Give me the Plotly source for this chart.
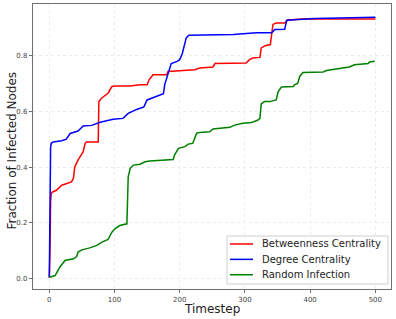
import plotly.graph_objects as go

# Betweenness Centrality (timestep, fraction)
bet_t = [0, 1, 2, 3, 5, 11, 19, 27, 34, 37, 39, 44, 47, 52, 55, 57, 75, 76, 80, 90, 96, 101, 124, 139, 150, 153, 159, 180, 182, 223, 231, 251, 254, 302, 307, 312, 323, 325, 331, 339, 341, 343, 348, 361, 366, 389, 500]
bet_v = [0.005, 0.09, 0.28, 0.305, 0.311, 0.317, 0.335, 0.341, 0.347, 0.36, 0.40, 0.425, 0.437, 0.455, 0.485, 0.49, 0.49, 0.634, 0.646, 0.664, 0.688, 0.69, 0.69, 0.694, 0.694, 0.712, 0.73, 0.73, 0.742, 0.748, 0.754, 0.758, 0.77, 0.772, 0.784, 0.79, 0.792, 0.826, 0.834, 0.838, 0.874, 0.91, 0.915, 0.915, 0.926, 0.929, 0.929]

# Degree Centrality
deg_t = [0, 1, 2, 3, 6, 19, 26, 32, 44, 52, 65, 78, 98, 113, 121, 134, 145, 150, 157, 170, 175, 177, 182, 187, 196, 200, 204, 210, 214, 282, 318, 341, 346, 361, 364, 407, 500]
deg_v = [0.005, 0.3, 0.47, 0.485, 0.49, 0.494, 0.5, 0.52, 0.529, 0.547, 0.549, 0.56, 0.571, 0.574, 0.592, 0.606, 0.615, 0.64, 0.646, 0.658, 0.662, 0.695, 0.736, 0.77, 0.778, 0.784, 0.806, 0.862, 0.871, 0.874, 0.88, 0.88, 0.892, 0.893, 0.925, 0.931, 0.936]

# Random Infection
rnd_t = [0, 9, 16, 24, 37, 42, 44, 50, 62, 73, 80, 90, 96, 101, 108, 119, 121, 124, 129, 139, 147, 154, 190, 192, 198, 208, 213, 220, 226, 231, 246, 251, 277, 284, 297, 310, 320, 323, 325, 330, 338, 348, 351, 356, 374, 376, 381, 384, 389, 420, 425, 440, 460, 468, 489, 491, 499]
rnd_v = [0.006, 0.012, 0.042, 0.066, 0.072, 0.08, 0.096, 0.104, 0.111, 0.12, 0.131, 0.141, 0.167, 0.18, 0.191, 0.197, 0.365, 0.395, 0.407, 0.41, 0.419, 0.422, 0.427, 0.443, 0.467, 0.473, 0.482, 0.485, 0.521, 0.524, 0.526, 0.536, 0.542, 0.55, 0.557, 0.559, 0.568, 0.574, 0.626, 0.634, 0.634, 0.64, 0.67, 0.686, 0.688, 0.694, 0.70, 0.724, 0.738, 0.74, 0.745, 0.75, 0.758, 0.766, 0.77, 0.776, 0.778]

series_names = ["Betweenness Centrality", "Degree Centrality", "Random Infection"]
series_colors = ["red", "blue", "green"]

x_ticks = [0, 100, 200, 300, 400, 500]
y_ticks = [0.0, 0.2, 0.4, 0.6, 0.8]
y_tick_labels = ["0.0", "0.2", "0.4", "0.6", "0.8"]
x_title = "Timestep"
y_title = "Fraction of Infected Nodes"

FONT = "DejaVu Sans"

fig = go.Figure()
for (tt, vv), name, color in zip([(bet_t, bet_v), (deg_t, deg_v), (rnd_t, rnd_v)], series_names, series_colors):
    fig.add_trace(go.Scatter(x=tt, y=vv, mode="lines", name=name,
                             line=dict(color=color, width=1.5), showlegend=False))

axis_common = dict(showgrid=True, gridcolor="#ececec", griddash="dot", gridwidth=1,
                   showline=True, mirror=True, linecolor="#707070", linewidth=1.3,
                   ticks="outside", ticklen=3, tickcolor="#707070",
                   tickfont=dict(family=FONT, size=7, color="#444"), zeroline=False,
                   automargin=False)

# Matplotlib-style legend box (paper coordinates of the plot area)
shapes = [dict(type="rect", xref="paper", yref="paper", x0=0.542, x1=0.9916, y0=0.0175, y1=0.186,
               fillcolor="rgba(255,255,255,0.85)", line=dict(color="#d0d0d0", width=1), layer="above")]
annotations = []
row_y = [0.158, 0.104, 0.050]
for name, color, ry in zip(series_names, series_colors, row_y):
    shapes.append(dict(type="line", xref="paper", yref="paper", x0=0.5503, x1=0.6145, y0=ry, y1=ry,
                       line=dict(color=color, width=1.5), layer="above"))
    annotations.append(dict(text=name, xref="paper", yref="paper", x=0.634, y=ry,
                            xanchor="left", yanchor="middle", showarrow=False,
                            font=dict(family=FONT, size=10, color="#222")))

annotations += [
    dict(text=x_title, xref="paper", yref="paper", x=0.5, y=0, xanchor="center", yanchor="top",
         yshift=-11, showarrow=False, font=dict(family=FONT, size=12, color="#222")),
    dict(text=y_title, xref="paper", yref="paper", x=0, y=0.5, xanchor="right", yanchor="middle",
         xshift=-13, yshift=-4, textangle=-90, showarrow=False,
         font=dict(family=FONT, size=12, color="#222")),
]

fig.update_layout(
    width=396, height=319,
    margin=dict(l=33, r=5, t=4, b=30, autoexpand=False),
    paper_bgcolor="white", plot_bgcolor="white",
    font=dict(family=FONT, color="#333"),
    showlegend=False,
    xaxis=dict(range=[-25, 524], tickvals=x_ticks, ticktext=[str(v) for v in x_ticks], **axis_common),
    yaxis=dict(range=[-0.036, 0.983], tickvals=y_ticks, ticktext=y_tick_labels, **axis_common),
    shapes=shapes,
    annotations=annotations,
)

fig.write_html("out.html", config={"displayModeBar": False},
               post_script="document.body.style.margin='0';document.body.style.padding='0';")
